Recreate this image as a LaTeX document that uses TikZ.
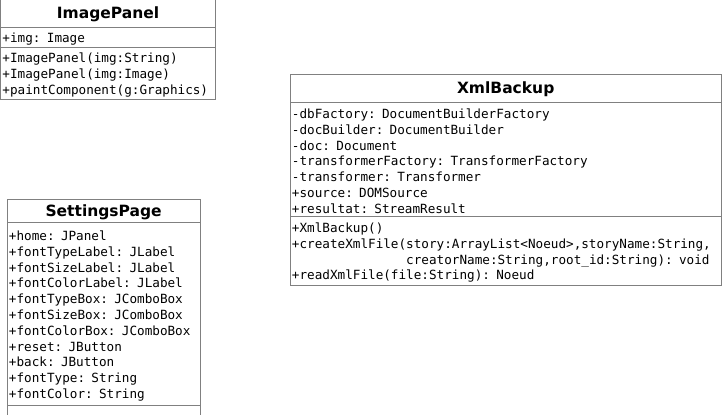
\documentclass[tikz,border=0pt]{standalone}
\usepackage{fontspec}
\setsansfont{DejaVu Sans}
\setmonofont{DejaVu Sans Mono}
\usetikzlibrary{positioning}
\definecolor{umlgray}{RGB}{128,128,128}

\begin{document}
\begin{tikzpicture}[x=1bp,y=-1bp,
		classname/.style={draw=umlgray, line width=0.8bp, outer sep=0pt, inner sep=0pt,
			anchor=north west, font=\sffamily\bfseries\fontsize{15.5bp}{18bp}\selectfont,
			execute at begin node={\rule{0pt}{14.5bp}}},
		members/.style={draw=umlgray, line width=0.8bp, outer sep=0pt, inner xsep=2bp, inner ysep=0pt,
			align=left, font=\ttfamily\fontsize{12.65bp}{15.8bp}\selectfont,
			execute at begin node={\rule{0pt}{13.5bp}}}]
		\useasboundingbox (0,0) rectangle (724,414);
		
		%ImagePanel
		\node[classname, minimum width=216, minimum height=28.3] (ip-name) at (0.5,-1) {ImagePanel};
		\node[members, below=0pt of ip-name, text width=212, minimum height=20] (ip-attr) {+img: Image};
		\node[members, below=0pt of ip-attr, text width=212, minimum height=52] (ip-meth) {+ImagePanel(img:String)\\
			+ImagePanel(img:Image)\\
			+paintComponent(g:Graphics)};
		
		%SettingsPage
		\node[classname, minimum width=194, minimum height=23.5] (sp-name) at (7,199.3) {SettingsPage};
		\node[members, below=0pt of sp-name, text width=190, minimum height=183.3] (sp-attr) {+home: JPanel\\
			+fontTypeLabel: JLabel\\
			+fontSizeLabel: JLabel\\
			+fontColorLabel: JLabel\\
			+fontTypeBox: JComboBox\\
			+fontSizeBox: JComboBox\\
			+fontColorBox: JComboBox\\
			+reset: JButton\\
			+back: JButton\\
			+fontType: String\\
			+fontColor: String};
		\node[members, below=0pt of sp-attr, text width=190, minimum height=6.7,
			execute at begin node={}] (sp-meth) {};
		
		%XmlBackup
		\node[classname, minimum width=433, minimum height=28] (xb-name) at (290,74) {XmlBackup};
		\node[members, below=0pt of xb-name, text width=429, minimum height=115] (xb-attr) {-dbFactory: DocumentBuilderFactory\\
			-docBuilder: DocumentBuilder\\
			-doc: Document\\
			-transformerFactory: TransformerFactory\\
			-transformer: Transformer\\
			+source: DOMSource\\
			+resultat: StreamResult};
		\node[members, below=0pt of xb-attr, text width=429, minimum height=69] (xb-meth) {+XmlBackup()\\
			+createXmlFile(story:ArrayList<Noeud>,storyName:String,\\
			\phantom{+createXmlFile(}creatorName:String,root\_id:String): void\\
			+readXmlFile(file:String): Noeud};
		
	\end{tikzpicture}
\end{document}
